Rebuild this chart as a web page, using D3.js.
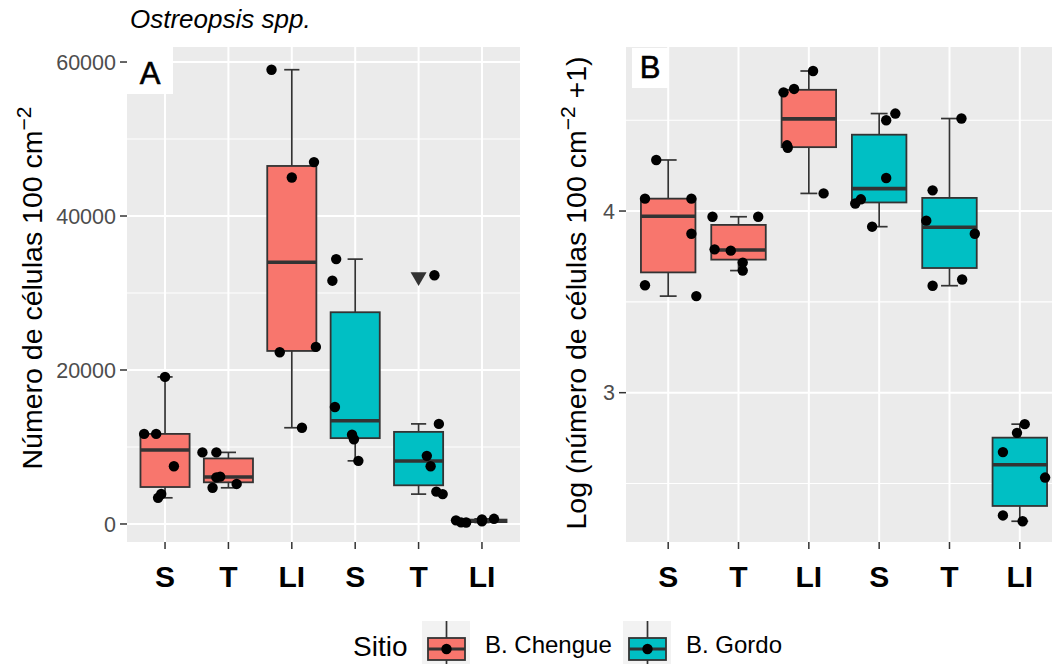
<!DOCTYPE html>
<html><head><meta charset="utf-8">
<script src="https://cdn.jsdelivr.net/npm/d3@7"></script>
<style>
body{margin:0;background:#fff}
text{font-family:"Liberation Sans",Arial,sans-serif}
</style>
</head><body>
<svg id="chart" width="1052" height="664"></svg>
<script>
// ---------------- data ----------------
const categories = ["S", "T", "LI", "S", "T", "LI"];
const groupSite = [0, 0, 0, 1, 1, 1];
const siteNames = ["B. Chengue", "B. Gordo"];
const siteColors = ["#F8766D", "#00BFC4"];
const plotTitle = "Ostreopsis spp.";
const legendTitle = "Sitio";
const panelLabels = ["A", "B"];

// cells per 100 cm^2 in each group (S, T, LI for each site)
const countsS_Chengue = [19100, 11700, 11700, 7500, 3900, 3400];
const countsT_Chengue = [9300, 9300, 6150, 6050, 5200, 4700];
const countsLI_Chengue = [59000, 47000, 45000, 23000, 22300, 12500];
const countsS_Gordo = [34400, 31600, 15200, 11600, 11000, 8200];
const countsT_Gordo = [32300, 13000, 8850, 7500, 4200, 3880];
const countsLI_Gordo = [670, 600, 470, 340, 210, 195];

// horizontal jitter of each point, in fractions of a category step
const jitterA_SC = [0, -0.33, -0.14, 0.14, -0.06, -0.11];
const jitterA_TC = [-0.41, -0.19, -0.13, -0.19, 0.13, -0.25];
const jitterA_LIC = [-0.32, 0.35, 0, 0.38, -0.19, 0.16];
const jitterA_SG = [-0.30, -0.36, -0.32, -0.05, -0.02, 0.05];
const jitterA_TG = [0.25, 0.32, 0.13, 0.19, 0.28, 0.38];
const jitterA_LIG = [0.19, 0, -0.41, 0, -0.33, -0.25];
const jitterB_SC = [-0.17, -0.33, 0.33, 0.33, -0.33, 0.40];
const jitterB_TC = [-0.37, 0.28, -0.34, -0.11, 0.06, 0.06];
const jitterB_LIC = [0.06, -0.21, -0.36, -0.31, -0.30, 0.21];
const jitterB_SG = [0.23, 0.10, 0.10, -0.26, -0.34, -0.10];
const jitterB_TG = [0.17, -0.24, -0.33, 0.36, 0.18, -0.24];
const jitterB_LIG = [0.07, -0.04, -0.24, 0.36, -0.24, 0.04];

const ticksA = [0, 20000, 40000, 60000];
const minorA = [10000, 30000, 50000];
const limitsA = [-2340, 61950];
const ticksB = [3, 4];
const minorB = [2.5, 3.5, 4.5];
const limitsB = [2.178, 4.903];

const groupsCounts = [countsS_Chengue, countsT_Chengue, countsLI_Chengue, countsS_Gordo, countsT_Gordo, countsLI_Gordo];
const jitterA = [jitterA_SC, jitterA_TC, jitterA_LIC, jitterA_SG, jitterA_TG, jitterA_LIG];
const jitterB = [jitterB_SC, jitterB_TC, jitterB_LIC, jitterB_SG, jitterB_TG, jitterB_LIG];

// ---------------- drawing ----------------
const svg = d3.select("#chart");
const PT_R = 5.2;

function boxStats(vals) {
  const s = vals.slice().sort(d3.ascending);
  const q1 = d3.quantileSorted(s, 0.25), med = d3.quantileSorted(s, 0.5), q3 = d3.quantileSorted(s, 0.75);
  const iqr = q3 - q1, lo = q1 - 1.5 * iqr, hi = q3 + 1.5 * iqr;
  const inside = s.filter(v => v >= lo && v <= hi);
  return {q1, med, q3, wlo: d3.min(inside), whi: d3.max(inside), out: s.filter(v => v < lo || v > hi)};
}

function drawPanel(opt) {
  const {x0, x1, y0, y1, limits, ticks, minor, values, jitter, tickFmt, label, labelBox} = opt;
  const ids = d3.range(categories.length);
  const x = d3.scalePoint().domain(ids).range([x0, x1]).padding(0.6);
  const step = x.step();
  const y = d3.scaleLinear().domain(limits).range([y1, y0]);
  const g = svg.append("g");
  const clipId = "clip" + label;
  svg.append("clipPath").attr("id", clipId).append("rect")
    .attr("x", x0).attr("y", y0).attr("width", x1 - x0).attr("height", y1 - y0);
  const p = g.append("g").attr("clip-path", `url(#${clipId})`);
  p.append("rect").attr("x", x0).attr("y", y0).attr("width", x1 - x0).attr("height", y1 - y0).attr("fill", "#EBEBEB");
  p.selectAll(".mn").data(minor).enter().append("line")
    .attr("x1", x0).attr("x2", x1).attr("y1", d => y(d)).attr("y2", d => y(d))
    .attr("stroke", "#fff").attr("stroke-width", 1.1);
  p.selectAll(".mj").data(ticks).enter().append("line")
    .attr("x1", x0).attr("x2", x1).attr("y1", d => y(d)).attr("y2", d => y(d))
    .attr("stroke", "#fff").attr("stroke-width", 2);
  p.selectAll(".mx").data(ids).enter().append("line")
    .attr("x1", d => x(d)).attr("x2", d => x(d)).attr("y1", y0).attr("y2", y1)
    .attr("stroke", "#fff").attr("stroke-width", 2);

  const bw = step * 0.775, cw = step * 0.24;
  ids.forEach(i => {
    const st = boxStats(values[i]);
    const cx = x(i);
    p.append("line").attr("x1", cx).attr("x2", cx).attr("y1", y(st.wlo)).attr("y2", y(st.whi))
      .attr("stroke", "#333").attr("stroke-width", 1.7);
    [st.wlo, st.whi].forEach(v => p.append("line").attr("x1", cx - cw / 2).attr("x2", cx + cw / 2)
      .attr("y1", y(v)).attr("y2", y(v)).attr("stroke", "#333").attr("stroke-width", 1.7));
    p.append("rect").attr("x", cx - bw / 2).attr("y", y(st.q3)).attr("width", bw)
      .attr("height", Math.max(0.5, y(st.q1) - y(st.q3)))
      .attr("fill", siteColors[groupSite[i]]).attr("stroke", "#333").attr("stroke-width", 1.8);
    p.append("line").attr("x1", cx - bw / 2).attr("x2", cx + bw / 2).attr("y1", y(st.med)).attr("y2", y(st.med))
      .attr("stroke", "#333").attr("stroke-width", 3.6);
    st.out.forEach(v => p.append("path")
      .attr("d", d3.symbol(d3.symbolTriangle, 111)())
      .attr("transform", `translate(${cx},${y(v) + 1.5}) rotate(180)`)
      .attr("fill", "#333"));
  });
  ids.forEach(i => {
    values[i].forEach((v, k) => p.append("circle")
      .attr("cx", x(i) + jitter[i][k] * step).attr("cy", y(v)).attr("r", PT_R).attr("fill", "#000"));
  });

  g.append("rect").attr("x", labelBox[0]).attr("y", labelBox[1]).attr("width", labelBox[2]).attr("height", labelBox[3]).attr("fill", "#fff");
  g.append("text").attr("x", labelBox[0] + labelBox[2] / 2).attr("y", labelBox[1] + labelBox[3] - 10)
    .attr("text-anchor", "middle").attr("font-size", 31).attr("fill", "#000")
    .attr("stroke", "#000").attr("stroke-width", 0.6).text(label);

  ticks.forEach(t => {
    g.append("line").attr("x1", x0 - 7).attr("x2", x0).attr("y1", y(t)).attr("y2", y(t)).attr("stroke", "#333").attr("stroke-width", 1.5);
    g.append("text").attr("x", x0 - 11).attr("y", y(t)).attr("dy", "0.36em").attr("text-anchor", "end")
      .attr("font-size", 21.5).attr("fill", "#4D4D4D").text(tickFmt(t));
  });
  ids.forEach(i => {
    g.append("line").attr("x1", x(i)).attr("x2", x(i)).attr("y1", y1).attr("y2", y1 + 7).attr("stroke", "#333").attr("stroke-width", 1.5);
    g.append("text").attr("x", x(i)).attr("y", 587).attr("text-anchor", "middle")
      .attr("font-size", 30).attr("font-weight", "bold").attr("fill", "#000").text(categories[i]);
  });
  return g;
}

drawPanel({x0: 127, x1: 520, y0: 47, y1: 542, limits: limitsA, ticks: ticksA, minor: minorA,
  values: groupsCounts, jitter: jitterA, tickFmt: d => String(d), label: panelLabels[0], labelBox: [127, 47, 46, 47]});
drawPanel({x0: 626, x1: 1062, y0: 47, y1: 542, limits: limitsB, ticks: ticksB, minor: minorB,
  values: groupsCounts.map(a => a.map(v => Math.log10(v + 1))), jitter: jitterB, tickFmt: d => String(d),
  label: panelLabels[1], labelBox: [632, 48, 36, 40]});

svg.append("text").attr("x", 130).attr("y", 28).attr("font-size", 26).attr("font-style", "italic").attr("fill", "#000").text(plotTitle);

const tA = svg.append("text").attr("transform", "translate(42,288) rotate(-90)").attr("text-anchor", "middle")
  .attr("font-size", 28.5).attr("fill", "#000");
tA.append("tspan").text("Número de células 100 cm");
tA.append("tspan").attr("font-size", 21).attr("dy", -11).text("−2");

const tB = svg.append("text").attr("transform", "translate(586,293) rotate(-90)").attr("text-anchor", "middle")
  .attr("font-size", 28.5).attr("fill", "#000");
tB.append("tspan").text("Log (número de células 100 cm");
tB.append("tspan").attr("font-size", 21).attr("dy", -11).text("−2");
tB.append("tspan").attr("dy", 11).text(" +1)");

const lg = svg.append("g");
lg.append("text").attr("x", 353).attr("y", 656).attr("font-size", 28).attr("fill", "#000").text(legendTitle);
const keyX = [422, 623], labX = [485, 686];
siteNames.forEach((nm, i) => {
  const kx = keyX[i];
  lg.append("rect").attr("x", kx).attr("y", 621).attr("width", 48).attr("height", 48).attr("fill", "#F2F2F2");
  lg.append("line").attr("x1", kx + 24.5).attr("x2", kx + 24.5).attr("y1", 621).attr("y2", 669).attr("stroke", "#333").attr("stroke-width", 1.7);
  lg.append("rect").attr("x", kx + 6).attr("y", 638).attr("width", 37).attr("height", 22)
    .attr("fill", siteColors[i]).attr("stroke", "#333").attr("stroke-width", 1.8);
  lg.append("line").attr("x1", kx + 6).attr("x2", kx + 43).attr("y1", 649).attr("y2", 649).attr("stroke", "#333").attr("stroke-width", 3);
  lg.append("circle").attr("cx", kx + 24.5).attr("cy", 649).attr("r", PT_R).attr("fill", "#000");
  lg.append("text").attr("x", labX[i]).attr("y", 653).attr("font-size", 24).attr("fill", "#000").text(nm);
});
</script>
</body></html>
